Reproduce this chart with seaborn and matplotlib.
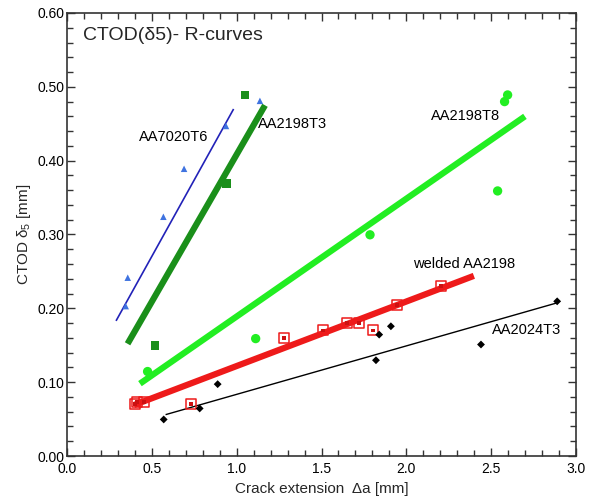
import matplotlib
matplotlib.use("Agg")
import matplotlib.pyplot as plt
import seaborn as sns
import numpy as np
import pandas as pd
from matplotlib.ticker import MultipleLocator

# ---- data ----
a7020_x = [0.346, 0.358, 0.568, 0.69, 0.937, 1.137]
a7020_y = [0.203, 0.2415, 0.324, 0.389, 0.447, 0.481]
a7020_fit_x = [0.289, 0.982]
a7020_fit_y = [0.183, 0.470]

a2198t3_x = [0.517, 0.941, 1.051]
a2198t3_y = [0.1495, 0.369, 0.489]
a2198t3_fit_x = [0.357, 1.167]
a2198t3_fit_y = [0.152, 0.475]

a2198t8_x = [0.475, 1.112, 1.786, 2.538, 2.579, 2.597]
a2198t8_y = [0.1144, 0.159, 0.2996, 0.359, 0.480, 0.489]
a2198t8_fit_x = [0.430, 2.699]
a2198t8_fit_y = [0.098, 0.460]

weld_x = [0.399, 0.414, 0.456, 0.731, 1.279, 1.51, 1.652, 1.723, 1.805, 1.945, 2.206]
weld_y = [0.070, 0.0734, 0.073, 0.070, 0.160, 0.170, 0.180, 0.1797, 0.170, 0.2045, 0.2297]
weld_fit_x = [0.395, 2.398]
weld_fit_y = [0.069, 0.244]

a2024_x = [0.570, 0.782, 0.888, 1.821, 1.840, 1.909, 2.440, 2.889]
a2024_y = [0.0495, 0.0644, 0.0973, 0.1297, 0.1644, 0.1757, 0.151, 0.2095]
a2024_fit_x = [0.581, 2.882]
a2024_fit_y = [0.056, 0.207]

labels = ["AA7020T6", "AA2198T3", "AA2198T8", "welded AA2198", "AA2024T3"]
label_pos_x = [0.424, 1.127, 2.145, 2.037, 2.503]
label_pos_y = [0.432, 0.4495, 0.460, 0.2595, 0.170]

sns.set_style("ticks")
plt.rcParams['font.family'] = ['Liberation Sans', 'DejaVu Sans']
plt.rcParams['mathtext.fontset'] = 'custom'
plt.rcParams['mathtext.rm'] = 'Liberation Sans'
plt.rcParams['mathtext.it'] = 'Liberation Sans'

fig = plt.figure(figsize=(5.95, 4.96), dpi=100)
ax = fig.add_axes([67/595, 1-456/496, (576-67)/595, (456-13)/496])

c_blue_line = "#2222b8"
c_blue_pt = "#3f73e0"
c_dgreen = "#1a8f1a"
c_lime = "#22ee22"
c_red = "#ee1a1a"

def fitline(x, y, color, lw):
    sns.lineplot(x=x, y=y, ax=ax, color=color, lw=lw, solid_capstyle='butt',
                 estimator=None, sort=False)

fitline(a7020_fit_x, a7020_fit_y, c_blue_line, 1.2)
fitline(a2198t3_fit_x, a2198t3_fit_y, c_dgreen, 4.5)
fitline(a2198t8_fit_x, a2198t8_fit_y, c_lime, 4.5)
fitline(weld_fit_x, weld_fit_y, c_red, 4.5)
fitline(a2024_fit_x, a2024_fit_y, "black", 1.0)

sns.scatterplot(x=a7020_x, y=a7020_y, ax=ax, marker="^", s=22, color=c_blue_pt, edgecolor="none", zorder=3)
sns.scatterplot(x=a2198t3_x, y=a2198t3_y, ax=ax, marker="s", s=36, color=c_dgreen, edgecolor="none", zorder=3)
sns.scatterplot(x=a2198t8_x, y=a2198t8_y, ax=ax, marker="o", s=45, color=c_lime, edgecolor="none", zorder=3)
sns.scatterplot(x=weld_x, y=weld_y, ax=ax, marker="s", s=52, facecolor="none", edgecolor=c_red, linewidth=1.1, zorder=3)
sns.scatterplot(x=weld_x, y=weld_y, ax=ax, marker="s", s=8, color="#cc1111", edgecolor="none", zorder=3)
sns.scatterplot(x=a2024_x, y=a2024_y, ax=ax, marker="D", s=16, color="black", edgecolor="none", zorder=3)

for t, lx, ly in zip(labels, label_pos_x, label_pos_y):
    ax.text(lx, ly, t, fontsize=10.5, ha="left", va="center", color="black")

ax.text(0.092, 0.569, "CTOD(δ5)- R-curves", fontsize=14, ha="left", va="center")

ax.set_xlim(0, 3.0)
ax.set_ylim(0, 0.60)
ax.xaxis.set_minor_locator(MultipleLocator(0.1))
ax.yaxis.set_minor_locator(MultipleLocator(0.02))
ax.set_yticks(np.arange(0, 0.61, 0.1))
ax.set_yticklabels([f"{v:.2f}" for v in np.arange(0, 0.61, 0.1)])
ax.set_xticks(np.arange(0, 3.01, 0.5))
ax.set_xticklabels([f"{v:.1f}" for v in np.arange(0, 3.01, 0.5)])
ax.tick_params(which="both", direction="in", top=True, right=True, labelsize=10, width=1, colors="#333333", labelcolor="black")
ax.tick_params(which="major", length=6)
ax.tick_params(which="minor", length=4)
ax.tick_params(axis="y", which="major", pad=2)
ax.tick_params(axis="x", which="major", pad=4)
for s in ax.spines.values():
    s.set_visible(True)
    s.set_linewidth(1.2)
    s.set_color("#333333")

ax.set_xlabel("Crack extension  Δa [mm]", fontsize=11, labelpad=5)
ax.set_ylabel("CTOD $\\delta_5$ [mm]", fontsize=11, labelpad=3)

fig.savefig("out.png", dpi=100)
